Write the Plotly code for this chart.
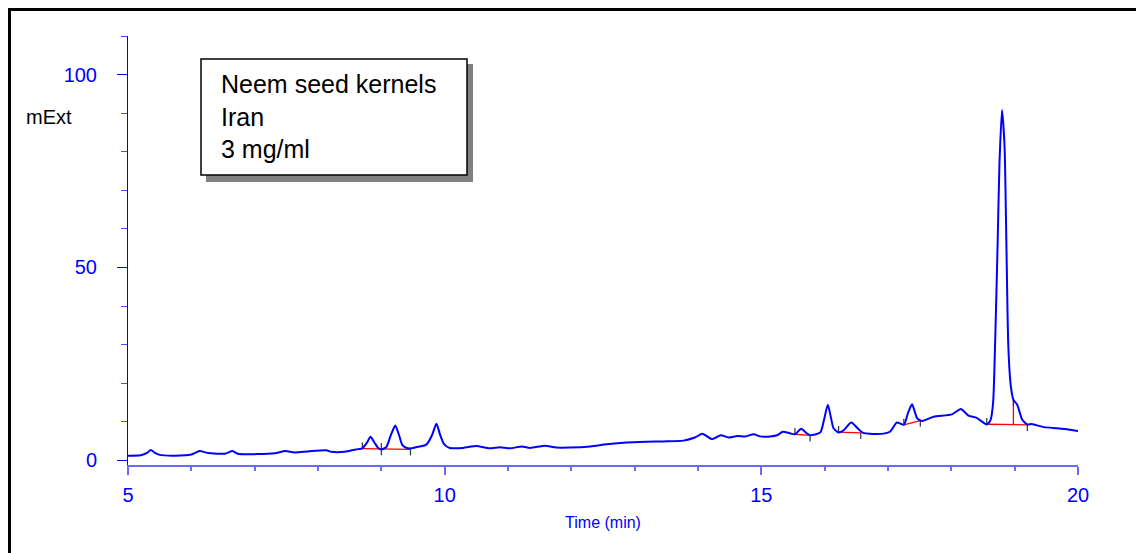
import plotly.graph_objects as go

# ---- chromatogram data (time in min, signal in mExt) ----
time_min = [5.00, 5.20, 5.30, 5.36, 5.42, 5.50, 5.74, 6.00, 6.13, 6.26, 6.53, 6.65, 6.73,
            7.05, 7.32, 7.48, 7.63, 7.84, 8.13, 8.21, 8.42, 8.63, 8.70, 8.77, 8.83, 8.89,
            8.95, 9.00, 9.08, 9.15, 9.22, 9.28, 9.33, 9.40, 9.47, 9.58, 9.71, 9.80, 9.87,
            9.93, 9.99, 10.08, 10.29, 10.50, 10.71, 10.87, 11.03, 11.22, 11.35, 11.58,
            11.76, 11.98, 12.30, 12.56, 12.87, 13.20, 13.45, 13.77, 13.95, 14.07, 14.22,
            14.36, 14.48, 14.62, 14.75, 14.88, 14.98, 15.14, 15.25, 15.34, 15.45, 15.53,
            15.63, 15.71, 15.77, 15.93, 15.99, 16.05, 16.10, 16.14, 16.22, 16.30, 16.42,
            16.52, 16.61, 16.82, 17.03, 17.14, 17.25, 17.32, 17.38, 17.46, 17.54, 17.72,
            18.01, 18.15, 18.27, 18.40, 18.56, 18.62, 18.66, 18.69, 18.73, 18.76, 18.80,
            18.84, 18.87, 18.90, 18.94, 18.98, 19.04, 19.12, 19.20, 19.27, 19.46, 19.67,
            19.85, 20.00]
signal = [1.2, 1.3, 1.9, 2.7, 2.0, 1.4, 1.2, 1.5, 2.4, 1.9, 1.7, 2.4, 1.7,
          1.6, 1.85, 2.4, 2.05, 2.3, 2.6, 2.2, 2.2, 2.9, 3.1, 4.5, 6.1, 4.6,
          3.2, 2.8, 3.5, 6.5, 9.0, 6.5, 4.0, 3.2, 3.1, 3.5, 4.05, 6.5, 9.5,
          6.5, 4.2, 3.2, 3.2, 3.7, 3.1, 3.4, 3.1, 3.6, 3.2, 3.8,
          3.3, 3.3, 3.6, 4.15, 4.6, 4.8, 4.9, 5.1, 5.9, 6.9, 5.5,
          6.5, 5.9, 6.3, 6.2, 6.75, 6.2, 6.2, 6.5, 7.4, 7.0, 6.75,
          8.2, 7.1, 6.5, 7.2, 10.5, 14.4, 11.0, 8.3, 7.2, 7.8, 9.8,
          8.3, 7.1, 6.8, 7.4, 9.8, 9.2, 12.5, 14.5, 10.9, 10.2, 11.3,
          11.9, 13.3, 11.6, 11.0, 9.3, 10.5, 15.0, 29.5, 55.5, 77.0, 90.8,
          81.5, 55.5, 29.5, 19.1, 15.7, 14.4, 10.5, 9.3, 9.4, 8.6, 8.3,
          8.0, 7.6]

# ---- integration baselines (red) ----
base_t0 = [8.70, 15.53, 16.22, 17.25, 18.56]
base_y0 = [3.0, 6.75, 7.3, 9.2, 9.35]
base_t1 = [9.46, 15.77, 16.57, 17.51, 19.20]
base_y1 = [2.85, 6.45, 7.1, 10.3, 9.2]
# drop line at shoulder of main peak
drop_t = [18.98]
drop_y_base = [9.25]
drop_y_top = [15.7]
# intermediate marker (peak separation)
mid_t = [9.00]
mid_y = [2.9]

x_ticks = [5, 10, 15, 20]
y_ticks = [0, 50, 100]
title_lines = ["Neem seed kernels", "Iran", "3 mg/ml"]

FONT = "Liberation Sans, Arial, sans-serif"
TICK_UNITS = 1.6  # marker tick length in data units

fig = go.Figure()

# red baselines
bx, by = [], []
for a, b, c, d in zip(base_t0, base_y0, base_t1, base_y1):
    bx += [a, c, None]
    by += [b, d, None]
for t, yb, yt in zip(drop_t, drop_y_base, drop_y_top):
    bx += [t, t, None]
    by += [yb, yt, None]
fig.add_trace(go.Scatter(x=bx, y=by, mode="lines", line=dict(color="#ff0000", width=1.3),
                         hoverinfo="skip", showlegend=False))

# black integration markers
mx, my = [], []
for t, y in zip(base_t0, base_y0):
    mx += [t, t, None]
    my += [y, y + TICK_UNITS, None]
for t, y in zip(base_t1, base_y1):
    mx += [t, t, None]
    my += [y, y - TICK_UNITS, None]
for t, y in zip(mid_t, mid_y):
    mx += [t, t, None]
    my += [y + TICK_UNITS, y - TICK_UNITS, None]
for t, y in zip(drop_t, drop_y_top):
    mx += [t, t, None]
    my += [y - TICK_UNITS, y + 0.3, None]
fig.add_trace(go.Scatter(x=mx, y=my, mode="lines", line=dict(color="#333333", width=1.2),
                         hoverinfo="skip", showlegend=False))

# chromatogram
fig.add_trace(go.Scatter(x=time_min, y=signal, mode="lines",
                         line=dict(color="#0000ff", width=2, shape="spline", smoothing=0.6),
                         showlegend=False))

# page has an 8px body margin; figure coordinates are page coordinates minus 8
OFF = 8
W, H = 1144 - OFF, 553 - OFF
L, T = 128 - OFF, 36 - OFF
R = W - (1078 - OFF)
B = H - (465 - OFF)
pw, ph = W - L - R, H - T - B


def px(xp):
    return (xp - OFF - L) / pw


def py(yp):
    return 1 - (yp - OFF - T) / ph


shapes = [
    # outer frame: top and left edges only (others lie outside the picture)
    dict(type="line", xref="paper", yref="paper", x0=px(8), y0=py(9.5), x1=px(1200), y1=py(9.5),
         line=dict(color="black", width=3), layer="above"),
    dict(type="line", xref="paper", yref="paper", x0=px(9.5), y0=py(8), x1=px(9.5), y1=py(700),
         line=dict(color="black", width=3), layer="above"),
    # legend box shadow
    dict(type="rect", xref="paper", yref="paper", x0=px(206), y0=py(182), x1=px(473), y1=py(64),
         line=dict(width=0), fillcolor="#808080", layer="above"),
    # legend box
    dict(type="rect", xref="paper", yref="paper", x0=px(201), y0=py(175), x1=px(467), y1=py(59),
         line=dict(color="black", width=1.5), fillcolor="white", layer="above"),
]

annotations = [
    dict(text="<br>".join(title_lines), xref="paper", yref="paper", x=px(219), y=py(116),
         xanchor="left", yanchor="middle", align="left", showarrow=False,
         font=dict(family=FONT, size=25, color="black")),
    dict(text="mExt", xref="paper", yref="paper", x=px(24), y=py(117),
         xanchor="left", yanchor="middle", showarrow=False,
         font=dict(family=FONT, size=20, color="black")),
]

fig.update_layout(
    width=W, height=H,
    margin=dict(l=L, r=R, t=T, b=B),
    plot_bgcolor="white", paper_bgcolor="white",
    shapes=shapes, annotations=annotations,
    font=dict(family=FONT),
    xaxis=dict(range=[5, 20], tickvals=x_ticks, ticktext=[str(v) for v in x_ticks],
               showgrid=False, zeroline=False, showline=True, linecolor="#6a6aff", linewidth=2,
               ticks="outside", ticklen=8, tickwidth=1.5, tickcolor="#6a6aff",
               ticklabelstandoff=3,
               tickfont=dict(family=FONT, size=20, color="#0000ff"),
               minor=dict(dtick=1, ticks="outside", ticklen=4, tickwidth=1.5, tickcolor="#6a6aff",
                          showgrid=False),
               title=dict(text="Time (min)", font=dict(family=FONT, size=16, color="#0000ff"),
                          standoff=12)),
    yaxis=dict(range=[-1.22, 110.01], tickvals=y_ticks, ticktext=[str(v) for v in y_ticks],
               showgrid=False, zeroline=False, showline=True, linecolor="#0000ff", linewidth=1,
               ticks="outside", ticklen=10, tickwidth=1, tickcolor="#0000ff",
               ticklabelstandoff=16,
               tickfont=dict(family=FONT, size=20, color="#0000ff"),
               minor=dict(dtick=10, ticks="outside", ticklen=6, tickwidth=1, tickcolor="#4d4dff",
                          showgrid=False)),
)

fig.write_html("out.html")
